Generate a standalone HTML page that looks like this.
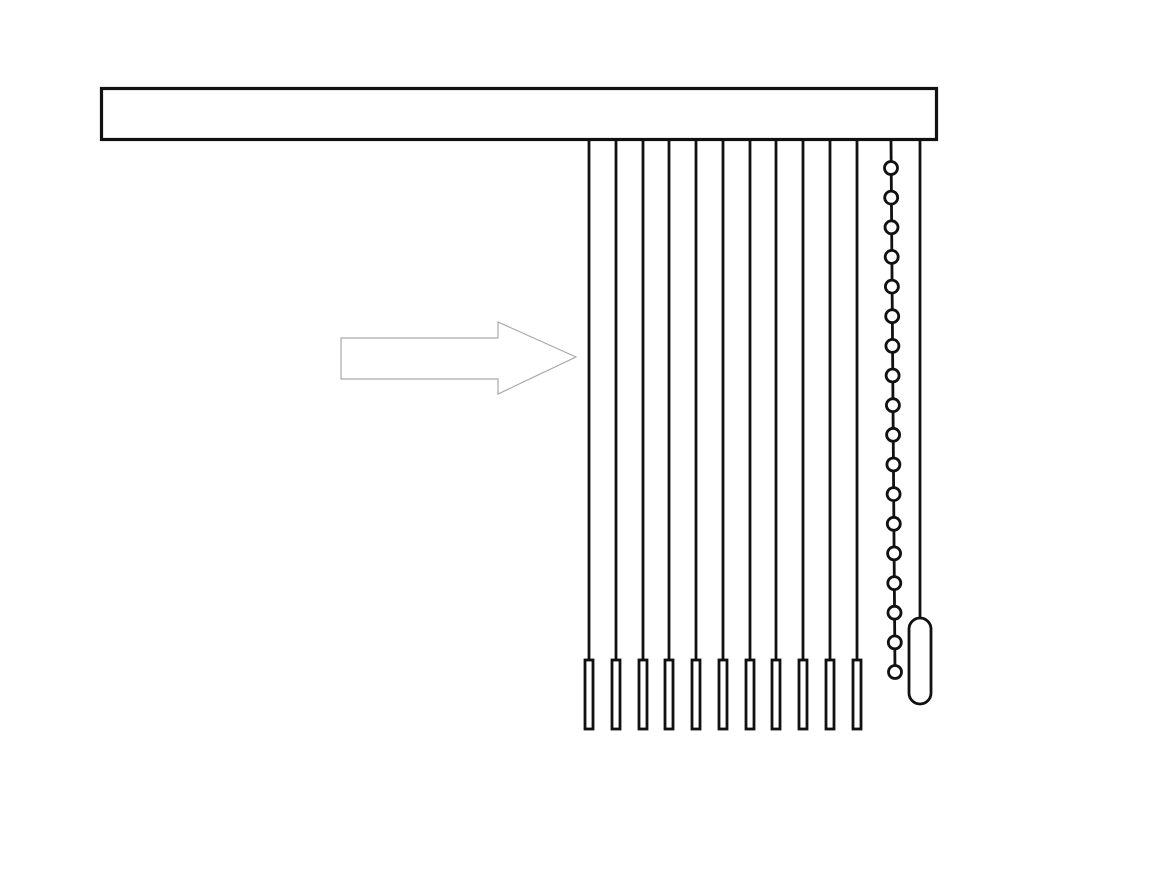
<!DOCTYPE html>
<html><head><meta charset="utf-8"><style>html,body{margin:0;padding:0;background:#fff;}svg{display:block}</style></head>
<body>
<svg width="1156" height="878" viewBox="0 0 1156 878" xmlns="http://www.w3.org/2000/svg">
<rect x="0" y="0" width="1156" height="878" fill="#fff"/>
<rect x="101.5" y="88.5" width="835" height="51" fill="none" stroke="#111" stroke-width="3.2"/>
<polygon points="341,338 498,338 498,322 576,357 498,394 498,379 341,379" fill="#fff" stroke="#aaa" stroke-width="1.2"/>
<g stroke="#111" stroke-width="2.8" fill="#fff">
<line x1="589" y1="140" x2="589" y2="660"/><rect x="585" y="660" width="8" height="69"/>
<line x1="616" y1="140" x2="616" y2="660"/><rect x="612" y="660" width="8" height="69"/>
<line x1="643" y1="140" x2="643" y2="660"/><rect x="639" y="660" width="8" height="69"/>
<line x1="669" y1="140" x2="669" y2="660"/><rect x="665" y="660" width="8" height="69"/>
<line x1="696" y1="140" x2="696" y2="660"/><rect x="692" y="660" width="8" height="69"/>
<line x1="723" y1="140" x2="723" y2="660"/><rect x="719" y="660" width="8" height="69"/>
<line x1="750" y1="140" x2="750" y2="660"/><rect x="746" y="660" width="8" height="69"/>
<line x1="776" y1="140" x2="776" y2="660"/><rect x="772" y="660" width="8" height="69"/>
<line x1="803" y1="140" x2="803" y2="660"/><rect x="799" y="660" width="8" height="69"/>
<line x1="830" y1="140" x2="830" y2="660"/><rect x="826" y="660" width="8" height="69"/>
<line x1="857" y1="140" x2="857" y2="660"/><rect x="853" y="660" width="8" height="69"/>
<line x1="891" y1="140" x2="895" y2="672"/>
<line x1="920" y1="140" x2="920" y2="618"/>
<rect x="909" y="618" width="22" height="86" rx="11"/>
</g>
<g stroke="#111" stroke-width="2.8" fill="#fff">
<circle cx="891.0" cy="168" r="6.5"/><circle cx="891.2" cy="197.6" r="6.5"/><circle cx="891.5" cy="227.3" r="6.5"/><circle cx="891.7" cy="256.9" r="6.5"/><circle cx="891.9" cy="286.6" r="6.5"/><circle cx="892.2" cy="316.2" r="6.5"/><circle cx="892.4" cy="345.9" r="6.5"/><circle cx="892.6" cy="375.5" r="6.5"/><circle cx="892.9" cy="405.2" r="6.5"/><circle cx="893.1" cy="434.8" r="6.5"/><circle cx="893.4" cy="464.5" r="6.5"/><circle cx="893.6" cy="494.1" r="6.5"/><circle cx="893.8" cy="523.8" r="6.5"/><circle cx="894.1" cy="553.4" r="6.5"/><circle cx="894.3" cy="583.1" r="6.5"/><circle cx="894.5" cy="612.7" r="6.5"/><circle cx="894.8" cy="642.4" r="6.5"/><circle cx="895.0" cy="672" r="6.5"/>
</g>
</svg>
</body></html>
